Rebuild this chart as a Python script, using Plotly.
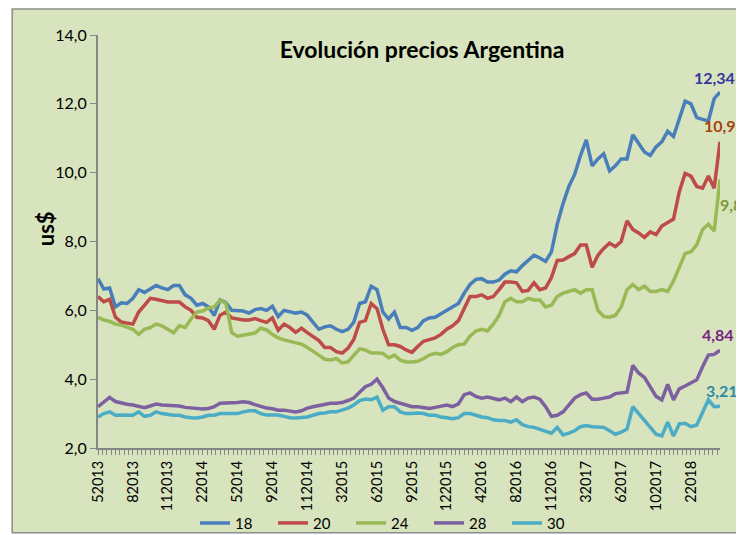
import plotly.graph_objects as go

# etiquetas del eje x (una cada 6 semanas)
etiquetas = ["52013", "82013", "112013", "22014", "52014", "92014", "112014",
             "32015", "62015", "92015", "122015", "42016", "82016", "112016",
             "32017", "62017", "102017", "22018"]
paso_etiqueta = 6

precio_18 = [6.92, 6.62, 6.65, 6.1, 6.22, 6.2, 6.35, 6.6, 6.52, 6.62,
             6.72, 6.65, 6.6, 6.72, 6.72, 6.45, 6.35, 6.15, 6.2, 6.1,
             5.85, 6.3, 6.22, 6.0, 6.0, 5.98, 5.92, 6.02, 6.05, 6.0,
             6.12, 5.82, 6.0, 5.95, 5.92, 5.95, 5.86, 5.65, 5.45, 5.52,
             5.55, 5.45, 5.38, 5.45, 5.65, 6.2, 6.25, 6.7, 6.6, 5.95,
             5.75, 5.95, 5.5, 5.5, 5.42, 5.5, 5.7, 5.78, 5.8, 5.9,
             6.0, 6.1, 6.2, 6.5, 6.75, 6.9, 6.92, 6.82, 6.82, 6.88,
             7.05, 7.15, 7.12, 7.3, 7.45, 7.6, 7.52, 7.42, 7.7, 8.5,
             9.1, 9.6, 9.95, 10.5, 10.95, 10.2, 10.4, 10.55, 10.05, 10.2,
             10.4, 10.4, 11.1, 10.85, 10.6, 10.5, 10.75, 10.9, 11.2, 11.05,
             11.6, 12.08, 12.0, 11.6, 11.55, 11.5, 12.15, 12.34]

precio_20 = [6.4, 6.25, 6.32, 5.8, 5.66, 5.62, 5.6, 5.95, 6.15, 6.35,
             6.32, 6.27, 6.24, 6.24, 6.24, 6.1, 6.0, 5.8, 5.78, 5.7,
             5.45, 5.86, 5.95, 5.78, 5.74, 5.72, 5.72, 5.76, 5.7, 5.65,
             5.78, 5.42, 5.6, 5.5, 5.36, 5.48, 5.35, 5.25, 5.12, 4.92,
             4.92, 4.8, 4.76, 4.9, 5.15, 5.65, 5.7, 6.2, 6.05, 5.45,
             5.0, 5.0, 4.95, 4.85, 4.78, 4.95, 5.1, 5.15, 5.2, 5.3,
             5.45, 5.55, 5.7, 6.05, 6.4, 6.4, 6.45, 6.35, 6.4, 6.6,
             6.82, 6.82, 6.8, 6.55, 6.58, 6.8, 6.6, 6.65, 6.95, 7.45,
             7.46, 7.56, 7.65, 7.9, 7.9, 7.25, 7.6, 7.8, 7.95, 7.85,
             8.0, 8.6, 8.35, 8.25, 8.12, 8.28, 8.2, 8.45, 8.55, 8.65,
             9.45, 9.98, 9.9, 9.6, 9.55, 9.9, 9.55, 10.9]

precio_24 = [5.8, 5.72, 5.68, 5.6, 5.57, 5.5, 5.45, 5.3, 5.45, 5.5,
             5.6, 5.55, 5.45, 5.35, 5.55, 5.5, 5.75, 5.95, 5.98, 6.07,
             6.1, 6.3, 6.2, 5.35, 5.25, 5.28, 5.32, 5.34, 5.48, 5.43,
             5.3, 5.2, 5.14, 5.1, 5.05, 5.02, 4.92, 4.82, 4.7, 4.58,
             4.56, 4.6, 4.47, 4.5, 4.68, 4.88, 4.85, 4.76, 4.76, 4.75,
             4.62, 4.7, 4.55, 4.5, 4.5, 4.52, 4.6, 4.7, 4.75, 4.72,
             4.8, 4.92, 5.0, 5.02, 5.25, 5.4, 5.45, 5.4, 5.6, 5.85,
             6.25, 6.35, 6.25, 6.25, 6.35, 6.3, 6.3, 6.1, 6.15, 6.4,
             6.5, 6.55, 6.6, 6.5, 6.6, 6.6, 6.0, 5.82, 5.8, 5.85,
             6.1, 6.6, 6.75, 6.6, 6.7, 6.55, 6.55, 6.6, 6.55, 6.85,
             7.25, 7.65, 7.7, 7.9, 8.35, 8.5, 8.3, 9.8]

precio_28 = [3.2, 3.35, 3.47, 3.35, 3.3, 3.27, 3.25, 3.2, 3.17, 3.22,
             3.28, 3.25, 3.24, 3.22, 3.22, 3.18, 3.16, 3.14, 3.13, 3.15,
             3.2, 3.3, 3.3, 3.3, 3.32, 3.34, 3.32, 3.26, 3.2, 3.16,
             3.14, 3.1, 3.1, 3.07, 3.05, 3.08, 3.16, 3.2, 3.24, 3.28,
             3.3, 3.3, 3.32, 3.38, 3.45, 3.62, 3.78, 3.85, 4.0, 3.75,
             3.45, 3.35, 3.3, 3.25, 3.2, 3.2, 3.18, 3.15, 3.18, 3.22,
             3.25, 3.2, 3.28, 3.55, 3.6, 3.5, 3.45, 3.48, 3.45, 3.4,
             3.45, 3.35, 3.48, 3.35, 3.45, 3.48, 3.42, 3.2, 2.92, 2.95,
             3.05, 3.25, 3.45, 3.55, 3.6, 3.42, 3.42, 3.45, 3.48, 3.58,
             3.6, 3.62, 4.4, 4.18, 4.05, 3.78, 3.5, 3.4, 3.85, 3.4,
             3.72, 3.8, 3.9, 3.98, 4.36, 4.7, 4.72, 4.84]

precio_30 = [2.9, 3.0, 3.05, 2.95, 2.96, 2.96, 2.95, 3.05, 2.92, 2.95,
             3.05, 3.0, 2.97, 2.95, 2.95, 2.9, 2.88, 2.87, 2.9, 2.95,
             2.95, 3.0, 3.0, 3.0, 3.0, 3.05, 3.08, 3.08, 3.0, 2.96,
             2.95, 2.96, 2.92, 2.88, 2.87, 2.88, 2.9, 2.95, 3.0, 3.02,
             3.05, 3.05, 3.1, 3.16, 3.25, 3.38, 3.42, 3.4, 3.48, 3.1,
             3.2, 3.2, 3.05, 3.0, 3.0, 3.02, 3.0, 2.95, 2.95, 2.9,
             2.88, 2.85, 2.88, 3.0, 3.0, 2.95, 2.9, 2.88, 2.82, 2.8,
             2.8, 2.75, 2.82, 2.68, 2.62, 2.6, 2.55, 2.48, 2.43, 2.6,
             2.38, 2.43, 2.5, 2.62, 2.65, 2.62, 2.6, 2.6, 2.5, 2.4,
             2.46, 2.55, 3.2, 3.0, 2.8, 2.58, 2.4, 2.35, 2.75, 2.35,
             2.7, 2.72, 2.62, 2.67, 3.02, 3.4, 3.2, 3.21]

series = [
    ("18", precio_18, "#4A7EBB", "#36369E", "12,34", -6, 15),
    ("20", precio_20, "#BE4B48", "#A8420F", "10,9", 0, 16),
    ("24", precio_24, "#98B954", "#7A9A3A", "9,8", 11, -25),
    ("28", precio_28, "#7D60A0", "#7B1F86", "4,84", -2, 16),
    ("30", precio_30, "#4BACC6", "#2E8BA3", "3,21", 2, 16),
]

fuente = "Lato, Open Sans, sans-serif"
semanas = list(range(len(precio_18)))

fig = go.Figure()
anotaciones = []
for nombre, valores, color, color_txt, texto, dx, dy in series:
    fig.add_trace(go.Scatter(
        x=semanas, y=valores, name=nombre, mode="lines",
        line=dict(color=color, width=3.5),
    ))
    # etiqueta del ultimo valor
    anotaciones.append(dict(
        x=semanas[-1], y=valores[-1], xref="x", yref="y", text=f"<b>{texto}</b>",
        showarrow=False, xshift=dx, yshift=dy,
        font=dict(family=fuente, size=16, color=color_txt),
    ))

anotaciones.append(dict(
    x=-0.085, y=0.53, xref="paper", yref="paper", text="<b>us$</b>",
    xanchor="center", yanchor="middle",
    textangle=-90, showarrow=False, font=dict(family=fuente, size=22, color="black"),
))

# la pagina deja 8px de margen en el body, por eso 736x527
fig.update_layout(
    width=736, height=527,
    margin=dict(l=90, r=24, t=27, b=87, autoexpand=False),
    paper_bgcolor="white", plot_bgcolor="#D7E4BD",
    separators=",.",
    font=dict(family=fuente, size=14, color="black"),
    title=dict(text="<b>Evolución precios Argentina</b>", x=0.521, xref="paper",
               xanchor="center", y=0.92, yref="container", yanchor="middle",
               font=dict(family=fuente, size=23, color="black")),
    xaxis=dict(
        range=[0, len(semanas) - 1],
        tickmode="array",
        tickvals=semanas[::paso_etiqueta],
        ticktext=etiquetas,
        tickangle=-90,
        showgrid=False, zeroline=False,
        showline=True, linecolor="#868686", linewidth=2,
        ticks="outside", ticklen=5, tickcolor="#868686",
        tickfont=dict(size=14.5),
        minor=dict(tickmode="linear", tick0=0, dtick=0.75, ticks="outside",
                   ticklen=5, tickcolor="#868686"),
    ),
    yaxis=dict(
        range=[2, 14], dtick=2, tickformat=".1f",
        showgrid=False, zeroline=False,
        showline=True, linecolor="#868686", linewidth=2,
        ticks="outside", ticklen=6, tickcolor="#868686",
        tickfont=dict(size=16),
    ),
    legend=dict(orientation="h", x=0.156, y=-0.182, xanchor="left", yanchor="middle",
                entrywidth=33, bgcolor="rgba(0,0,0,0)", font=dict(size=15)),
    annotations=anotaciones,
    shapes=[dict(type="rect", xref="paper", yref="paper", layer="below",
                 x0=-0.138, x1=1.036, y0=-0.205, y1=1.063,
                 fillcolor="#D7E4BD", line=dict(color="#8C8C8C", width=1.5))],
)

fig.write_html("out.html")
